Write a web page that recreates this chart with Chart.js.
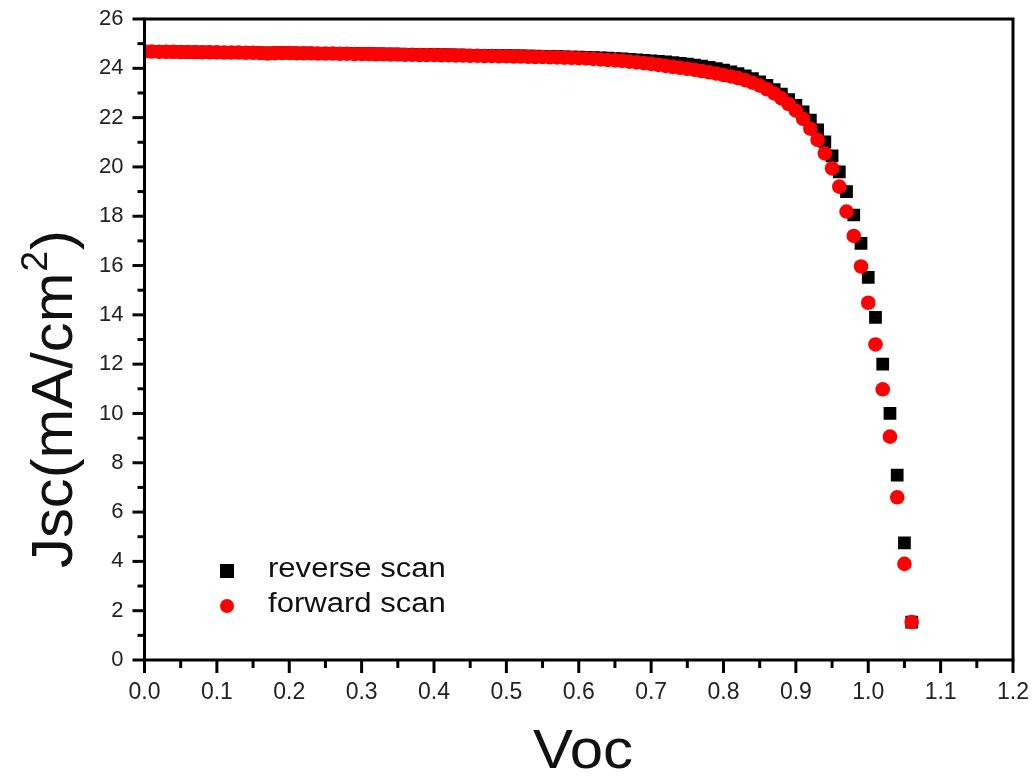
<!DOCTYPE html>
<html><head><meta charset="utf-8">
<script src="https://cdn.jsdelivr.net/npm/chart.js@4"></script>
<style>html,body{margin:0;padding:0;background:#fff}#wrap{width:1034px;height:777px}</style>
</head><body><div id="wrap"><canvas id="c" width="1034" height="777"></canvas></div>
<script>
const voltage = [
0.00,0.01,0.02,0.03,0.04,0.05,0.06,0.07,0.08,0.09,
0.10,0.11,0.12,0.13,0.14,0.15,0.16,0.17,0.18,0.19,
0.20,0.21,0.22,0.23,0.24,0.25,0.26,0.27,0.28,0.29,
0.30,0.31,0.32,0.33,0.34,0.35,0.36,0.37,0.38,0.39,
0.40,0.41,0.42,0.43,0.44,0.45,0.46,0.47,0.48,0.49,
0.50,0.51,0.52,0.53,0.54,0.55,0.56,0.57,0.58,0.59,
0.60,0.61,0.62,0.63,0.64,0.65,0.66,0.67,0.68,0.69,
0.70,0.71,0.72,0.73,0.74,0.75,0.76,0.77,0.78,0.79,
0.80,0.81,0.82,0.83,0.84,0.85,0.86,0.87,0.88,0.89,
0.90,0.91,0.92,0.93,0.94,0.95,0.96,0.97,0.98,0.99,
1.00,1.01,1.02,1.03,1.04,1.05,1.06];
const reverseScan = [
24.68,24.68,24.68,24.67,24.67,24.67,24.66,24.66,24.66,24.66,
24.65,24.65,24.65,24.64,24.64,24.64,24.63,24.62,24.63,24.63,
24.63,24.62,24.62,24.62,24.61,24.61,24.61,24.60,24.60,24.60,
24.60,24.59,24.59,24.58,24.58,24.58,24.57,24.57,24.56,24.56,
24.56,24.55,24.55,24.54,24.54,24.53,24.53,24.52,24.52,24.51,
24.51,24.50,24.50,24.49,24.49,24.48,24.47,24.47,24.46,24.45,
24.45,24.44,24.43,24.42,24.41,24.39,24.38,24.36,24.34,24.32,
24.30,24.28,24.26,24.23,24.20,24.17,24.13,24.09,24.04,23.99,
23.93,23.86,23.78,23.69,23.58,23.45,23.31,23.14,22.95,22.73,
22.50,22.23,21.90,21.50,21.02,20.45,19.80,19.00,18.05,16.90,
15.52,13.90,12.00,10.00,7.50,4.75,1.54];
const forwardScan = [
24.68,24.68,24.67,24.67,24.67,24.66,24.66,24.66,24.65,24.65,
24.65,24.64,24.64,24.64,24.63,24.63,24.62,24.60,24.61,24.62,
24.62,24.61,24.61,24.61,24.60,24.60,24.60,24.59,24.59,24.58,
24.58,24.58,24.57,24.57,24.56,24.56,24.55,24.55,24.54,24.54,
24.54,24.53,24.53,24.52,24.52,24.51,24.51,24.50,24.50,24.49,
24.49,24.48,24.48,24.47,24.46,24.46,24.45,24.44,24.43,24.42,
24.41,24.40,24.38,24.36,24.34,24.32,24.30,24.27,24.24,24.21,
24.18,24.14,24.10,24.06,24.02,23.98,23.94,23.89,23.84,23.79,
23.73,23.67,23.60,23.52,23.42,23.30,23.15,22.98,22.78,22.55,
22.28,21.95,21.55,21.10,20.55,19.94,19.20,18.19,17.20,15.96,
14.49,12.80,10.98,9.06,6.60,3.90,1.54];
const xTickValues = [0.0,0.1,0.2,0.3,0.4,0.5,0.6,0.7,0.8,0.9,1.0,1.1,1.2];
const yTickValues = [0,2,4,6,8,10,12,14,16,18,20,22,24,26];
const seriesLabels = ['reverse scan','forward scan'];
const xTitle = 'Voc';
const yTitleMain = 'Jsc(mA/cm', yTitleSup = '2', yTitleEnd = ')';

const FONT = '"Liberation Sans", Arial, sans-serif';

const framePlugin = {
  id: 'frame',
  afterDraw(chart) {
    const {ctx, chartArea: a, scales: {x, y}} = chart;
    ctx.save();
    ctx.strokeStyle = '#000';
    ctx.lineWidth = 3;
    ctx.strokeRect(a.left, a.top, a.right - a.left, a.bottom - a.top);
    const line = (x1, y1, x2, y2) => { ctx.beginPath(); ctx.moveTo(x1, y1); ctx.lineTo(x2, y2); ctx.stroke(); };
    xTickValues.forEach((v, i) => {
      const px = x.getPixelForValue(v);
      line(px, a.bottom, px, a.bottom + 13);
      if (i < xTickValues.length - 1) {
        const m = x.getPixelForValue((v + xTickValues[i + 1]) / 2);
        line(m, a.bottom, m, a.bottom + 8);
      }
    });
    yTickValues.forEach((v, i) => {
      const py = y.getPixelForValue(v);
      line(a.left, py, a.left - 12, py);
      if (i < yTickValues.length - 1) {
        const m = y.getPixelForValue((v + yTickValues[i + 1]) / 2);
        line(a.left, m, a.left - 7, m);
      }
    });
    // x title
    ctx.fillStyle = '#111';
    ctx.save();
    ctx.translate(583, 768);
    ctx.scale(1.07, 1);
    ctx.font = '56px ' + FONT;
    ctx.textAlign = 'center';
    ctx.textBaseline = 'alphabetic';
    ctx.fillText(xTitle, 0, 0);
    ctx.restore();
    // y title with superscript
    ctx.save();
    ctx.translate(72, 400);
    ctx.rotate(-Math.PI / 2);
    ctx.scale(1.03, 1);
    ctx.textAlign = 'left';
    ctx.textBaseline = 'alphabetic';
    ctx.font = '58px ' + FONT;
    const w1 = ctx.measureText(yTitleMain).width;
    const w3 = ctx.measureText(yTitleEnd).width;
    ctx.font = '36px ' + FONT;
    const w2 = ctx.measureText(yTitleSup).width;
    const start = -(w1 + w2 + w3) / 2;
    ctx.font = '58px ' + FONT;
    ctx.fillText(yTitleMain, start, 0);
    ctx.fillText(yTitleEnd, start + w1 + w2 + 2, 0);
    ctx.font = '36px ' + FONT;
    ctx.fillText(yTitleSup, start + w1 + 1, -25);
    ctx.restore();
    // legend
    const ds = chart.data.datasets;
    const rev = ds.find(d => d.label === seriesLabels[0]);
    const fwd = ds.find(d => d.label === seriesLabels[1]);
    ctx.fillStyle = rev.backgroundColor;
    ctx.fillRect(227 - 7, 571 - 7, 14, 14);
    ctx.fillStyle = fwd.backgroundColor;
    ctx.beginPath(); ctx.arc(227, 606, 7, 0, Math.PI * 2); ctx.fill();
    ctx.fillStyle = '#111';
    ctx.font = '27px ' + FONT;
    ctx.textAlign = 'left';
    ctx.textBaseline = 'middle';
    [[rev.label, 570], [fwd.label, 605]].forEach(([t, ty]) => {
      ctx.save();
      ctx.translate(268, ty);
      ctx.scale(1.15, 1);
      ctx.fillText(t, 0, 0);
      ctx.restore();
    });
    ctx.restore();
  }
};

new Chart(document.getElementById('c'), {
  type: 'scatter',
  data: {
    datasets: [
      { label: seriesLabels[1], data: voltage.map((v, i) => ({x: v, y: forwardScan[i]})),
        pointStyle: 'circle', pointRadius: 7.3, pointHoverRadius: 7.3, backgroundColor: '#ff0000', borderColor: '#ff0000', borderWidth: 0, order: 0, clip: 0 },
      { label: seriesLabels[0], data: voltage.map((v, i) => ({x: v, y: reverseScan[i]})),
        pointStyle: 'rect', pointRadius: 9, pointHoverRadius: 9, backgroundColor: '#000000', borderColor: '#000000', borderWidth: 0, order: 1, clip: 0 }
    ]
  },
  options: {
    responsive: false,
    animation: false,
    devicePixelRatio: 1,
    layout: {padding: {left: 0, right: 21, top: 19, bottom: 0}},
    plugins: {legend: {display: false}, tooltip: {enabled: false}},
    events: [],
    scales: {
      x: {
        type: 'linear', min: 0, max: 1.2,
        afterBuildTicks: s => { s.ticks = xTickValues.map(v => ({value: v})); },
        afterFit: s => { s.height = 117; s.paddingLeft = 0; s.paddingRight = 0; },
        grid: {display: false, drawTicks: false},
        border: {display: false},
        ticks: {padding: 19, color: '#222', font: {family: FONT, size: 23}, maxRotation: 0, autoSkip: false,
          callback: v => Number(v).toFixed(1)}
      },
      y: {
        type: 'linear', min: 0, max: 26,
        afterBuildTicks: s => { s.ticks = yTickValues.map(v => ({value: v})); },
        afterFit: s => { s.width = 144.5; s.paddingTop = 0; s.paddingBottom = 0; },
        grid: {display: false, drawTicks: false},
        border: {display: false},
        ticks: {padding: 21, color: '#222', font: {family: FONT, size: 22}, autoSkip: false,
          callback: v => String(v)}
      }
    }
  },
  plugins: [framePlugin]
});
</script></body></html>
